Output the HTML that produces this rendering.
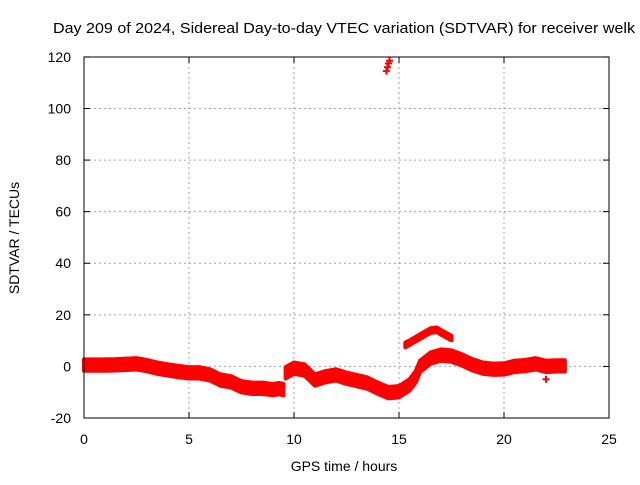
<!DOCTYPE html>
<html><head><meta charset="utf-8"><style>
body{margin:0;background:#fff}
svg text{font-family:"Liberation Sans",sans-serif;font-size:14px;fill:#000}
</style></head><body>
<svg id="chart" width="640" height="480">
<text x="53" y="33" textLength="582" lengthAdjust="spacingAndGlyphs" style="font-size:15px">Day 209 of 2024, Sidereal Day-to-day VTEC variation (SDTVAR) for receiver welk</text>
<text x="344" y="471" text-anchor="middle">GPS time / hours</text>
<text transform="translate(19,238) rotate(-90)" text-anchor="middle">SDTVAR / TECUs</text>
<g id="grid"></g><g id="marks"></g>
<rect x="84" y="57" width="525" height="361" fill="none" stroke="#000" stroke-width="1"/>
</svg>
<script>
const xTicks=[0,5,10,15,20,25];
const yTicks=[-20,0,20,40,60,80,100,120];
const seg1T=[0,0.5,1,1.5,2,2.5,3,3.5,4,4.5,5,5.5,6,6.5,7,7.5,8,8.5,9,9.3,9.5];
const seg1V=[0.5,0.5,0.5,0.6,0.8,1,0.3,-0.7,-1.4,-2,-2.5,-2.5,-3.3,-5.3,-6,-7.9,-8.5,-8.5,-9,-8.6,-9];
const seg2T=[9.6,10,10.5,11,11.5,12,12.5,13,13.5,14,14.5,15,15.5,15.8,16,16.5,17,17.5,18,18.5,19,19.5,20,20.5,21,21.5,22,22.5,22.9];
const seg2V=[-2.5,-0.7,-1.4,-5.3,-4,-3.3,-4.6,-5.5,-6.5,-8.5,-10.2,-9.8,-7.2,-4,0,3.2,4.4,4,2.5,0.6,-0.7,-1.1,-1,0,0.3,1,0,0.2,0.2];
const arcT=[15.3,15.5,16,16.5,16.8,17,17.5];
const arcV=[8.3,9.2,11.5,13.9,14.2,13.2,11];
const spikeT=[14.4,14.45,14.5,14.55];
const spikeV=[114.5,116,117.5,118.5];
const outT=[22];
const outV=[-5];
const X=t=>84+t*21;
const Y=v=>366.4-v*2.579;
const NS='http://www.w3.org/2000/svg';
const grid=document.getElementById('grid'),marks=document.getElementById('marks'),svg=document.getElementById('chart');
function mk(tag,attrs,parent){const e=document.createElementNS(NS,tag);for(const k in attrs)e.setAttribute(k,attrs[k]);parent.appendChild(e);return e;}
xTicks.forEach(t=>{
 if(t>0&&t<25){const g=mk('line',{x1:X(t),x2:X(t),y1:57,y2:418,stroke:'#a0a0a0','stroke-dasharray':'2,3'},grid);
 
 }
 mk('line',{x1:X(t),x2:X(t),y1:418,y2:412,stroke:'#000'},grid);
 mk('line',{x1:X(t),x2:X(t),y1:57,y2:63,stroke:'#000'},grid);
 const l=mk('text',{x:X(t),y:444,'text-anchor':'middle'},svg);l.textContent=t;
 
 
});
yTicks.forEach(v=>{
 if(v>-20&&v<120){const g=mk('line',{x1:84,x2:609,y1:Y(v),y2:Y(v),stroke:'#a0a0a0','stroke-dasharray':'2,3'},grid);
 
 }
 mk('line',{x1:84,x2:90,y1:Y(v),y2:Y(v),stroke:'#000'},grid);
 mk('line',{x1:609,x2:603,y1:Y(v),y2:Y(v),stroke:'#000'},grid);
 const l=mk('text',{x:71,y:Y(v)+5,'text-anchor':'end'},svg);l.textContent=v;
 
 
});
function band(T,V,w,name){
 const up=T.map((t,i)=>X(t)+','+Y(V[i]+w)).join(' ');
 const dn=T.map((t,i)=>X(t)+','+Y(V[i]-w)).reverse().join(' ');
 const p=mk('polygon',{points:up+' '+dn,fill:'#ff0000',stroke:'#ff0000','stroke-width':4,'stroke-linejoin':'round'},marks);
 
 
}
band(seg1T,seg1V,2.2,'sdtvar-band-early');
band(seg2T,seg2V,2.2,'sdtvar-band-late');
band(arcT,arcV,0.9,'sdtvar-arc');
function plus(T,V,name){T.forEach((t,i)=>{
 const p=mk('path',{d:`M${X(t)-3.5},${Y(V[i])}h7M${X(t)},${Y(V[i])-3.5}v7`,stroke:'#ff0000','stroke-width':2},marks);
 
 
});}
plus(spikeT,spikeV,'spike-point');
plus(outT,outV,'outlier-point');
</script>
</body></html>
